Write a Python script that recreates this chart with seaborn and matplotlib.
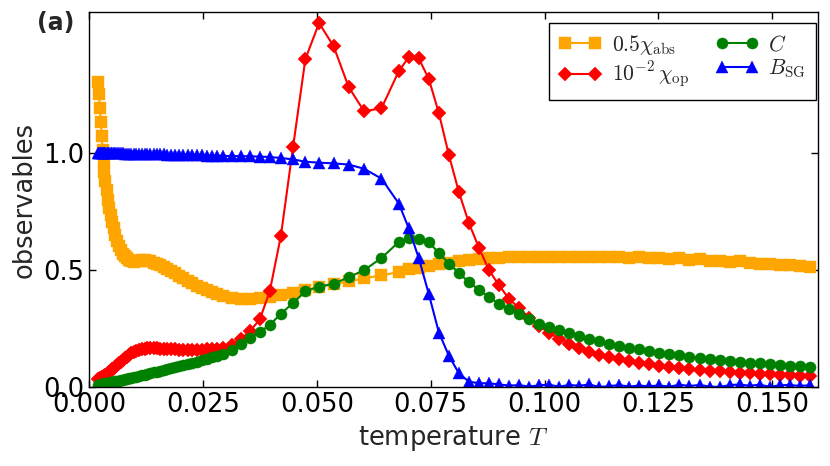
import matplotlib
matplotlib.use("Agg")
import matplotlib.pyplot as plt
import seaborn as sns

# temperature grid
temperature = [
    0.0020, 0.0022, 0.0024, 0.0026, 0.0028, 0.0030, 0.0032, 0.0034, 0.0036, 0.0039,
    0.0042, 0.0045, 0.0048, 0.0051, 0.0054, 0.0058, 0.0062, 0.0066, 0.0070, 0.0074,
    0.0078, 0.0083, 0.0088, 0.0093, 0.0098, 0.0104, 0.0110, 0.0116, 0.0122, 0.0128,
    0.0135, 0.0142, 0.0149, 0.0156, 0.0164, 0.0172, 0.0180, 0.0189, 0.0198, 0.0207,
    0.0217, 0.0227, 0.0237, 0.0248, 0.0259, 0.0270, 0.0282, 0.0294, 0.0313, 0.0333,
    0.0353, 0.0375, 0.0397, 0.0421, 0.0448, 0.0475, 0.0505, 0.0537, 0.0570, 0.0604,
    0.0642, 0.0680, 0.0702, 0.0724, 0.0746, 0.0768, 0.0790, 0.0812, 0.0834, 0.0856,
    0.0878, 0.0900, 0.0922, 0.0944, 0.0966, 0.0988, 0.1010, 0.1032, 0.1054, 0.1076,
    0.1098, 0.1120, 0.1142, 0.1164, 0.1186, 0.1208, 0.1230, 0.1252, 0.1274, 0.1296,
    0.1318, 0.1340, 0.1362, 0.1384, 0.1406, 0.1428, 0.1450, 0.1472, 0.1494, 0.1516,
    0.1538, 0.1560, 0.1582,
]

# 0.5 * chi_abs
chi_abs = [
    1.30, 1.25, 1.19, 1.13, 1.07, 1.01, 0.96, 0.92, 0.88, 0.84,
    0.80, 0.765, 0.735, 0.705, 0.68, 0.65, 0.625, 0.603, 0.585, 0.57,
    0.56, 0.55, 0.542, 0.537, 0.535, 0.537, 0.54, 0.543, 0.543, 0.541,
    0.537, 0.532, 0.527, 0.521, 0.514, 0.506, 0.498, 0.488, 0.477, 0.466,
    0.455, 0.444, 0.434, 0.424, 0.414, 0.405, 0.397, 0.39, 0.382, 0.378,
    0.377, 0.38, 0.386, 0.393, 0.402, 0.415, 0.428, 0.44, 0.452, 0.465,
    0.478, 0.492, 0.503, 0.51, 0.518, 0.525, 0.532, 0.538, 0.543, 0.547,
    0.55, 0.553, 0.555, 0.556, 0.554, 0.557, 0.556, 0.558, 0.555, 0.557,
    0.556, 0.558, 0.555, 0.556, 0.553, 0.555, 0.552, 0.553, 0.549, 0.55,
    0.545, 0.547, 0.54, 0.538, 0.535, 0.537, 0.532, 0.528, 0.527, 0.522,
    0.523, 0.518, 0.512,
]

# 1e-2 * chi_op
chi_op = [
    0.035, 0.037, 0.039, 0.041, 0.043, 0.045, 0.048, 0.051, 0.054, 0.058,
    0.062, 0.067, 0.072, 0.077, 0.082, 0.089, 0.096, 0.103, 0.11, 0.117,
    0.124, 0.132, 0.139, 0.146, 0.152, 0.157, 0.161, 0.164, 0.166, 0.167,
    0.168, 0.168, 0.167, 0.166, 0.165, 0.164, 0.163, 0.162, 0.161, 0.161,
    0.16, 0.16, 0.161, 0.161, 0.162, 0.164, 0.166, 0.17, 0.182, 0.205,
    0.24, 0.29, 0.412, 0.644, 1.026, 1.40, 1.553, 1.454, 1.28, 1.177,
    1.19, 1.348, 1.408, 1.402, 1.314, 1.169, 0.99, 0.832, 0.70, 0.595,
    0.50, 0.435, 0.378, 0.338, 0.298, 0.262, 0.233, 0.207, 0.187, 0.168,
    0.153, 0.14, 0.129, 0.12, 0.112, 0.105, 0.099, 0.093, 0.088, 0.083,
    0.079, 0.075, 0.072, 0.069, 0.066, 0.063, 0.061, 0.059, 0.057, 0.055,
    0.053, 0.051, 0.05,
]

# specific heat C
heat = [
    0.01, 0.011, 0.012, 0.013, 0.014, 0.015, 0.016, 0.017, 0.018, 0.019,
    0.02, 0.021, 0.022, 0.023, 0.024, 0.026, 0.027, 0.029, 0.031, 0.033,
    0.035, 0.037, 0.039, 0.041, 0.043, 0.046, 0.049, 0.052, 0.055, 0.058,
    0.061, 0.064, 0.067, 0.07, 0.074, 0.078, 0.082, 0.086, 0.09, 0.095,
    0.1, 0.105, 0.11, 0.116, 0.122, 0.128, 0.135, 0.143, 0.16, 0.185,
    0.21, 0.237, 0.267, 0.314, 0.36, 0.41, 0.43, 0.442, 0.47, 0.50,
    0.552, 0.62, 0.637, 0.633, 0.619, 0.573, 0.528, 0.488, 0.448, 0.417,
    0.385, 0.357, 0.334, 0.314, 0.293, 0.271, 0.257, 0.243, 0.232, 0.221,
    0.206, 0.196, 0.186, 0.177, 0.17, 0.163, 0.156, 0.149, 0.143, 0.139,
    0.132, 0.127, 0.122, 0.118, 0.113, 0.109, 0.106, 0.103, 0.099, 0.096,
    0.093, 0.092, 0.089,
]

# Binder parameter B_SG
binder = [
    1.0, 1.0, 1.0, 1.0, 1.0, 1.0, 1.0, 1.0, 1.0, 1.0,
    0.999, 0.999, 0.999, 0.999, 0.999, 0.998, 0.998, 0.998, 0.998, 0.998,
    0.997, 0.997, 0.997, 0.997, 0.996, 0.996, 0.996, 0.995, 0.995, 0.995,
    0.994, 0.994, 0.993, 0.993, 0.993, 0.992, 0.992, 0.991, 0.991, 0.99,
    0.99, 0.99, 0.989, 0.989, 0.988, 0.988, 0.987, 0.987, 0.986, 0.986,
    0.985, 0.984, 0.982, 0.978, 0.972, 0.962, 0.958, 0.955, 0.95, 0.932,
    0.89, 0.784, 0.678, 0.55, 0.397, 0.234, 0.135, 0.06, 0.025, 0.018,
    0.018, 0.013, 0.008, 0.01, 0.004, 0.009, 0.012, 0.003, 0.011, 0.007,
    0.013, 0.002, 0.006, 0.01, 0.004, 0.008, 0.005, 0.009, 0.003, 0.012,
    0.006, 0.011, 0.004, 0.002, 0.01, 0.013, 0.007, 0.012, 0.003, 0.009,
    0.011, 0.006, 0.01,
]

xticks = [0.0, 0.025, 0.05, 0.075, 0.1, 0.125, 0.15]
yticks = [0.0, 0.5, 1.0]

sns.set_style("ticks", {"xtick.direction": "in", "ytick.direction": "in"})
plt.rcParams["font.family"] = ["DejaVu Sans"]
plt.rcParams["mathtext.fontset"] = "cm"
plt.rcParams["xtick.top"] = True
plt.rcParams["ytick.right"] = True

fig = plt.figure(figsize=(8.3, 4.66), dpi=100)
ax = fig.add_axes([0.1072, 0.1685, 0.8783, 0.8057])

series = [
    (chi_abs, "orange", "s", 8.3, r"$0.5\chi_{\rm abs}$"),
    (chi_op, "red", "D", 6.8, r"$10^{-2}\,\chi_{\rm op}$"),
    (heat, "green", "o", 8.0, r"$C$"),
    (binder, "blue", "^", 8.5, r"$B_{\rm SG}$"),
]
for vals, col, mk, ms, lab in series:
    sns.lineplot(x=temperature, y=vals, ax=ax, color=col, marker=mk,
                 markersize=ms, markeredgecolor=col, markeredgewidth=0.3,
                 linewidth=1.5, errorbar=None, label=lab)

ax.set_xlim(0, 0.16)
ax.set_ylim(0, 1.6)
ax.set_xticks(xticks)
ax.set_yticks(yticks)
ax.xaxis.set_major_formatter(matplotlib.ticker.FormatStrFormatter("%.3f"))
ax.yaxis.set_major_formatter(matplotlib.ticker.FormatStrFormatter("%.1f"))
ax.tick_params(labelsize=18.5, length=5, width=1, colors="black")
for sp in ax.spines.values():
    sp.set_linewidth(1.0)
    sp.set_color("black")

ax.set_xlabel("temperature $T$", fontsize=18.5)
ax.set_ylabel("observables", fontsize=18.5)

leg = ax.legend(ncol=2, loc="upper right", bbox_to_anchor=(0.997, 0.971),
                borderaxespad=0, numpoints=2, fontsize=15.5, fancybox=False,
                framealpha=1, edgecolor="black", handlelength=2.0,
                columnspacing=1.25, handletextpad=0.45, labelspacing=0.15,
                borderpad=0.45)
leg.get_frame().set_linewidth(1.0)

fig.text(0.045, 0.951, "(a)", fontsize=17, fontweight="bold", va="center")

fig.savefig("out.png", dpi=100)
